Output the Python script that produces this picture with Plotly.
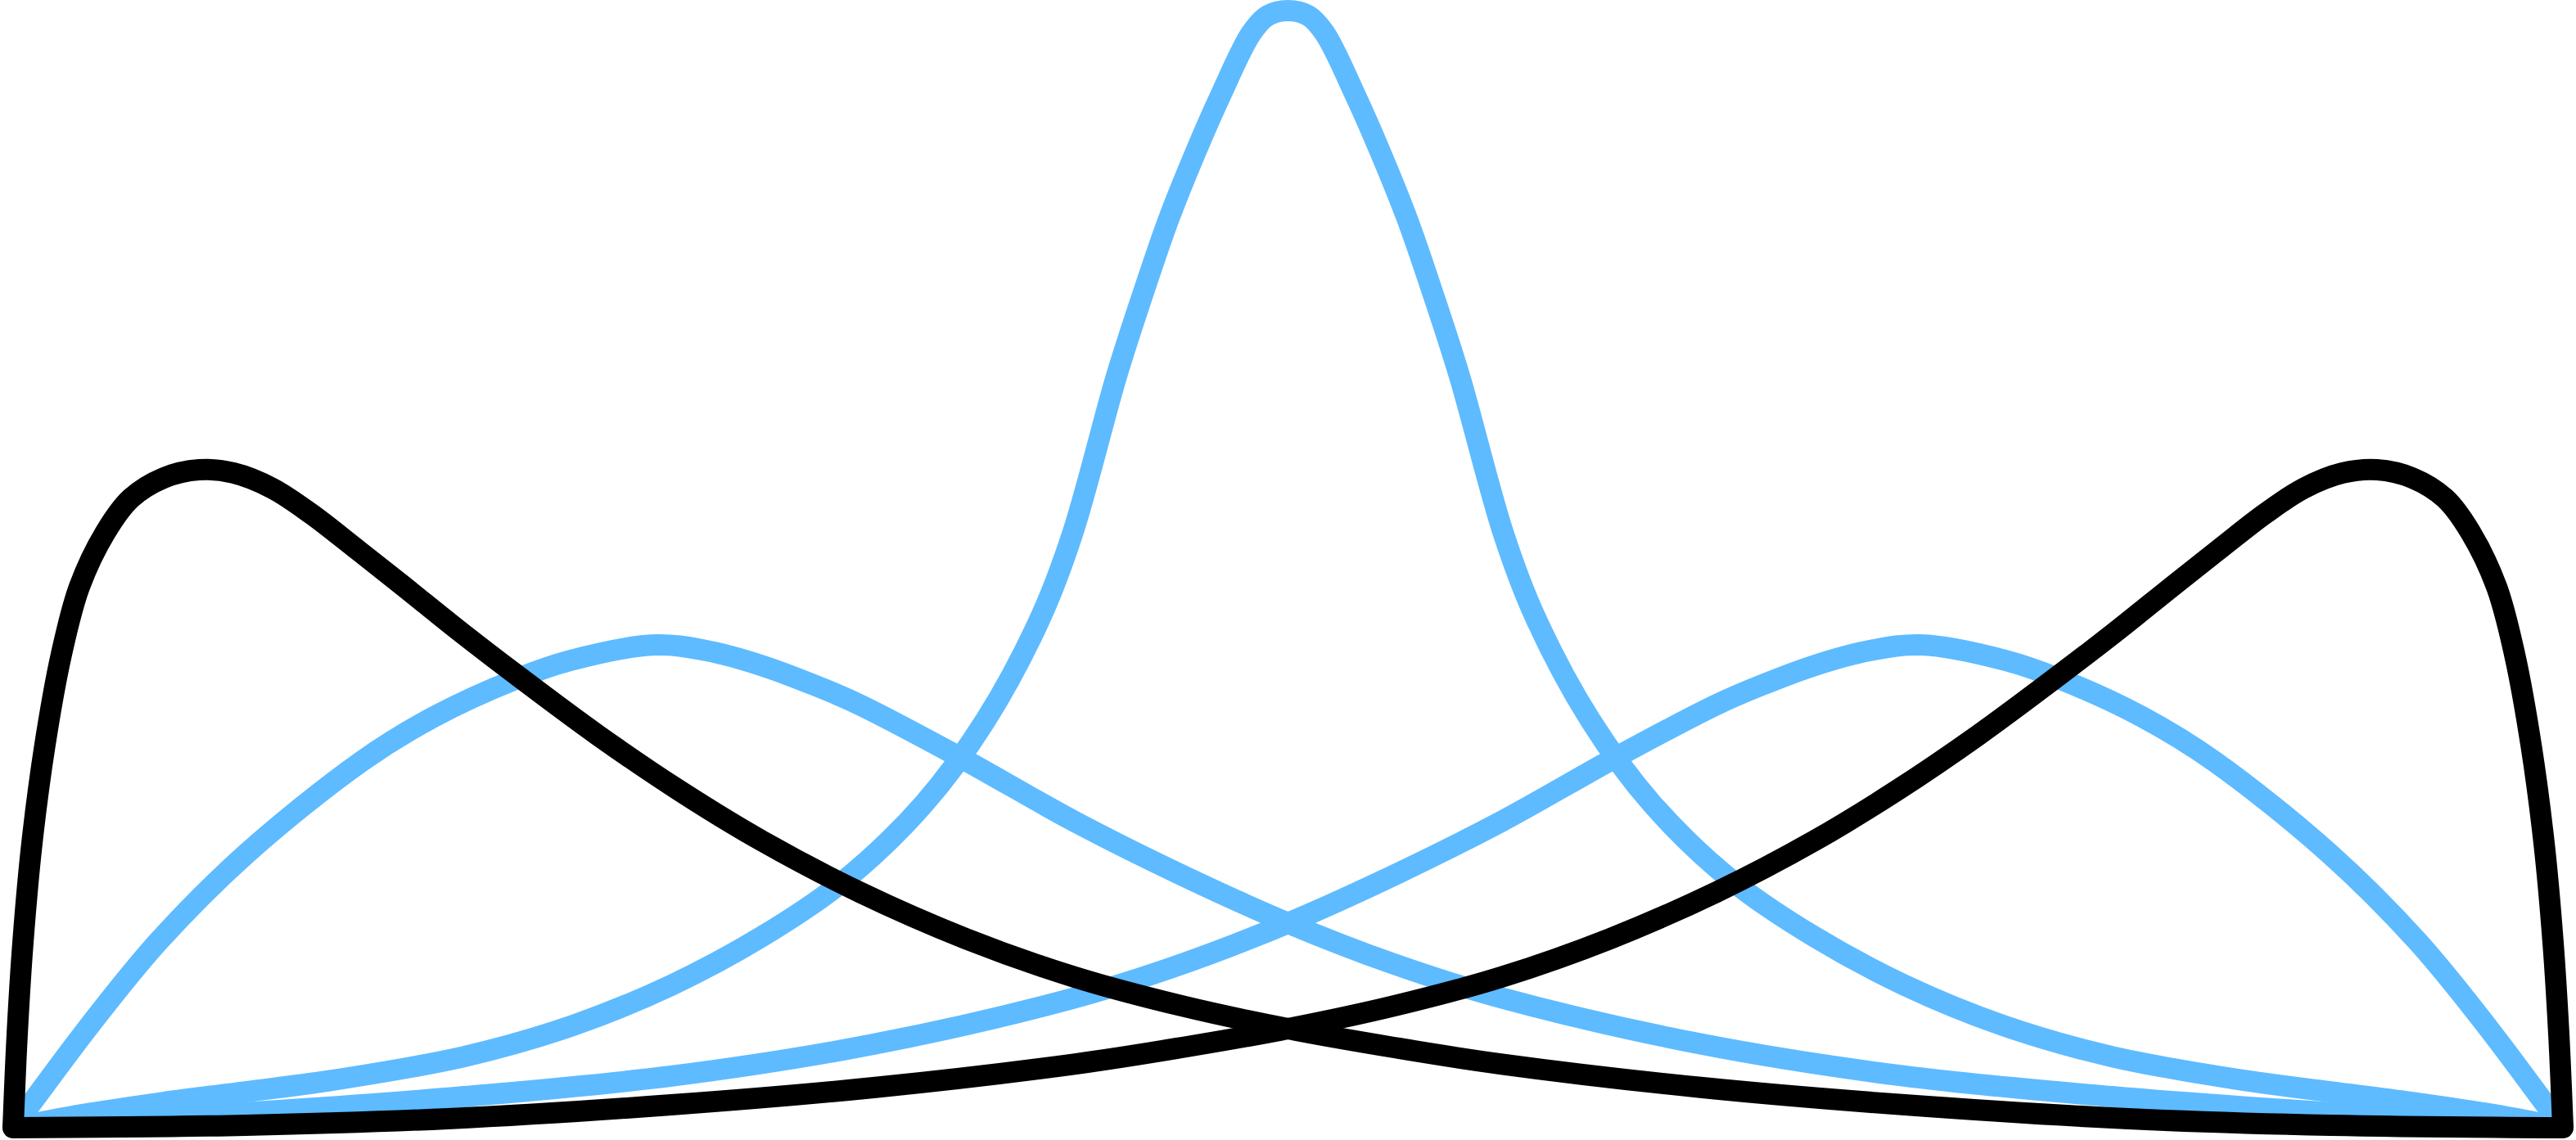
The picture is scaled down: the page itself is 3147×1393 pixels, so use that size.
import plotly.graph_objects as go

# Curves (normalised: x 0..1 corner to corner, y 0..1 baseline to top peak)
black_left_x = [0, 0.0016, 0.0039, 0.0074, 0.0125, 0.0189, 0.0260, 0.0363, 0.0462, 0.0591, 0.0729,
                0.0864, 0.1018, 0.1169, 0.1339, 0.1522, 0.1746, 0.1971, 0.2292, 0.2613, 0.2934,
                0.3319, 0.3737, 0.4164, 0.4581, 0.5, 0.5416, 0.5833, 0.6626, 0.7419, 0.8295,
                0.9088, 1.0]
black_left_y = [0, 0.0835, 0.1670, 0.2549, 0.3429, 0.4234, 0.4842, 0.5333, 0.5634, 0.5817, 0.5890,
                0.5861, 0.5722, 0.5495, 0.5194, 0.4864, 0.4454, 0.4059, 0.3516, 0.3018, 0.2571,
                0.2110, 0.1692, 0.1348, 0.1092, 0.0886, 0.0718, 0.0571, 0.0359, 0.0205, 0.0081,
                0.0022, 0]

black_right_x = [0, 0.0912, 0.1705, 0.2581, 0.3374, 0.4167, 0.4584, 0.5, 0.5419, 0.5836, 0.6263,
                 0.6681, 0.7066, 0.7387, 0.7708, 0.8029, 0.8254, 0.8478, 0.8661, 0.8831, 0.8982,
                 0.9136, 0.9271, 0.9409, 0.9538, 0.9637, 0.9740, 0.9811, 0.9875, 0.9926, 0.9961,
                 0.9984, 1.0]
black_right_y = [0, 0.0022, 0.0081, 0.0205, 0.0359, 0.0571, 0.0718, 0.0886, 0.1092, 0.1348, 0.1692,
                 0.2110, 0.2571, 0.3018, 0.3516, 0.4059, 0.4454, 0.4864, 0.5194, 0.5495, 0.5722,
                 0.5861, 0.5890, 0.5817, 0.5634, 0.5333, 0.4842, 0.4234, 0.3429, 0.2549, 0.1670,
                 0.0835, 0]

blue_left_x = [0, 0.0067, 0.0308, 0.0571, 0.0912, 0.1368, 0.1650, 0.1971, 0.2186, 0.2517, 0.2719,
               0.2934, 0.3149, 0.3319, 0.3711, 0.4164, 0.4581, 0.5, 0.5416, 0.5833, 0.6626, 0.7419,
               0.8231, 0.8767, 0.9409, 1.0]
blue_left_y = [0, 0.0205, 0.0938, 0.1670, 0.2447, 0.3282, 0.3678, 0.4015, 0.4183, 0.4322, 0.4271,
               0.4139, 0.3956, 0.3788, 0.3319, 0.2740, 0.2264, 0.1832, 0.1465, 0.1165, 0.0747, 0.0462,
               0.0278, 0.0183, 0.0088, 0]

blue_mid_x = [0, 0.0270, 0.0591, 0.0912, 0.1233, 0.1769, 0.2196, 0.2581, 0.2934, 0.3255, 0.3570,
              0.3814, 0.4032, 0.4154, 0.4327, 0.4427, 0.4533, 0.4639, 0.4735, 0.4857, 0.4921, 0.5,
              0.5079, 0.5143, 0.5265, 0.5361, 0.5467, 0.5573, 0.5673, 0.5846, 0.5968, 0.6186,
              0.6430, 0.6745, 0.7066, 0.7419, 0.7804, 0.8231, 0.8767, 0.9088, 0.9409, 0.9730, 1.0]
blue_mid_y = [0, 0.0117, 0.0227, 0.0322, 0.0418, 0.0637, 0.0916, 0.1275, 0.1707, 0.2205, 0.2894,
              0.3648, 0.4579, 0.5311, 0.6725, 0.7436, 0.8139, 0.8740, 0.9238, 0.9802, 0.9956, 1.0,
              0.9956, 0.9802, 0.9238, 0.8740, 0.8139, 0.7436, 0.6725, 0.5311, 0.4579, 0.3648,
              0.2894, 0.2205, 0.1707, 0.1275, 0.0916, 0.0637, 0.0418, 0.0322, 0.0227, 0.0117, 0]

blue_right_x = [0, 0.0591, 0.1233, 0.1769, 0.2581, 0.3374, 0.4167, 0.4584, 0.5, 0.5419, 0.5836,
                0.6289, 0.6681, 0.6851, 0.7066, 0.7281, 0.7483, 0.7814, 0.8029, 0.8350, 0.8632,
                0.9088, 0.9429, 0.9692, 0.9933, 1.0]
blue_right_y = [0, 0.0088, 0.0183, 0.0278, 0.0462, 0.0747, 0.1165, 0.1465, 0.1832, 0.2264, 0.2740,
                0.3319, 0.3788, 0.3956, 0.4139, 0.4271, 0.4322, 0.4183, 0.4015, 0.3678, 0.3282,
                0.2447, 0.1670, 0.0938, 0.0205, 0]

corner_x = [0, 1]
corner_y = [0, 0]

BLUE = "#5EBBFF"
BLACK = "#000000"
LW = 26

fig = go.Figure()
for xs, ys in [(blue_left_x, blue_left_y), (blue_mid_x, blue_mid_y), (blue_right_x, blue_right_y)]:
    fig.add_trace(go.Scatter(x=xs, y=ys, mode="lines",
                             line=dict(color=BLUE, width=LW, shape="spline", smoothing=1.0,
                                       simplify=False),
                             hoverinfo="skip"))
for xs, ys in [(black_left_x, black_left_y), (black_right_x, black_right_y)]:
    fig.add_trace(go.Scatter(x=xs, y=ys, mode="lines",
                             line=dict(color=BLACK, width=LW, shape="spline", smoothing=1.0,
                                       simplify=False),
                             hoverinfo="skip"))
fig.add_trace(go.Scatter(x=corner_x, y=corner_y, mode="markers",
                         marker=dict(color=BLACK, size=LW, line=dict(width=0)),
                         hoverinfo="skip"))

fig.update_layout(
    width=3147, height=1393,
    margin=dict(l=0, r=0, t=0, b=0, pad=0),
    paper_bgcolor="white", plot_bgcolor="white",
    showlegend=False,
    xaxis=dict(range=[-0.005136, 1.005136], visible=False, fixedrange=True),
    yaxis=dict(range=[-0.010989, 1.009524], visible=False, fixedrange=True),
)

fig.write_html("out.html", config={"displayModeBar": False},
               post_script="document.body.style.margin='0';document.body.style.overflow='hidden';")
